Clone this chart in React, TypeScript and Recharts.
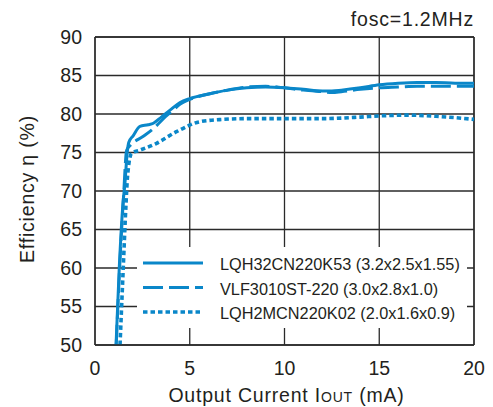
import React from "react";
import { LineChart, Line, XAxis, YAxis, CartesianGrid, Legend, ReferenceLine } from "recharts";

const FONT = '"Liberation Sans", Arial, Helvetica, sans-serif';
const BLUE = "#0a87c9";
const INK = "#231f20";

// Output current (mA) and efficiency (%)
const lqh32I = [1.11, 1.28, 1.48, 1.58, 1.7, 1.78, 2.02, 2.37, 2.81, 3.08, 3.5, 3.96, 4.49, 5.0, 6.0, 7.0, 8.0, 9.0, 10.0, 11.0, 12.0, 12.5, 13.0, 14.0, 15.0, 16.0, 17.0, 18.0, 19.0, 20.0];
const lqh32Eff = [50, 60, 68.5, 71, 75, 76.3, 77.2, 78.4, 78.6, 78.8, 79.6, 80.5, 81.5, 82.0, 82.6, 83.1, 83.4, 83.5, 83.4, 83.2, 83.0, 83.0, 83.1, 83.4, 83.8, 84.0, 84.1, 84.1, 84.0, 84.0];

const vlfI = [1.12, 1.3, 1.5, 1.67, 1.85, 2.55, 3.08, 3.78, 4.13, 4.5, 5.0, 6.0, 7.0, 8.0, 9.0, 10.0, 11.0, 12.0, 12.5, 13.0, 14.0, 15.0, 16.0, 17.0, 18.0, 19.0, 20.0];
const vlfEff = [50, 60, 69, 75.3, 75.9, 77.1, 78.1, 79.8, 80.5, 81.3, 81.9, 82.6, 83.1, 83.5, 83.6, 83.4, 83.1, 82.9, 82.8, 82.9, 83.2, 83.4, 83.5, 83.6, 83.6, 83.6, 83.6];

const lqh2mI = [1.32, 1.49, 1.63, 1.72, 1.93, 2.37, 3.25, 4.3, 5.54, 6.77, 8.0, 10.0, 12.0, 14.0, 15.0, 16.5, 18.0, 18.6, 20.0];
const lqh2mEff = [50, 60, 68, 72, 74.9, 75.3, 76.2, 77.7, 79.0, 79.3, 79.4, 79.4, 79.4, 79.6, 79.75, 79.85, 79.7, 79.6, 79.3];

const seriesNames = [
  "LQH32CN220K53 (3.2x2.5x1.55)",
  "VLF3010ST-220 (3.0x2.8x1.0)",
  "LQH2MCN220K02 (2.0x1.6x0.9)",
];
const seriesDash = ["", "20 6", "4.5 3"];
const seriesWidth = [3, 3, 3.6];

const xTicks = [0, 5, 10, 15, 20];
const yTicks = [50, 55, 60, 65, 70, 75, 80, 85, 90];
const noteText = "fosc=1.2MHz";

const toRows = (xs: number[], ys: number[]) => xs.map((x, k) => ({ i: x, eff: ys[k] }));
const seriesData = [toRows(lqh32I, lqh32Eff), toRows(vlfI, vlfEff), toRows(lqh2mI, lqh2mEff)];

const XLabel = (props: any) => {
  const vb = props.viewBox || {};
  return (
    <text
      x={vb.x + vb.width / 2 + 2}
      y={vb.y + 57}
      textAnchor="middle"
      fontFamily={FONT}
      fontSize={19.5}
      letterSpacing={0.8}
      fill={INK}
    >
      Output Current I<tspan fontSize={14}>OUT</tspan> (mA)
    </text>
  );
};

const YLabel = (props: any) => {
  const vb = props.viewBox || {};
  const cx = 27;
  const cy = vb.y + vb.height / 2 - 2;
  return (
    <text
      x={cx}
      y={cy}
      transform={`rotate(-90, ${cx}, ${cy})`}
      textAnchor="middle"
      dominantBaseline="central"
      fontFamily={FONT}
      fontSize={19.5}
      letterSpacing={0.8}
      fill={INK}
    >
      Efficiency η (%)
    </text>
  );
};

const LegendBox = () => (
  <div style={{ width: 330, height: 81, background: "#fff" }}>
    <svg width={330} height={81}>
      {seriesNames.map((name, k) => {
        const y = 16 + k * 24.5;
        return (
          <g key={name}>
            <line
              x1={6}
              x2={66}
              y1={y}
              y2={y}
              stroke={BLUE}
              strokeWidth={seriesWidth[k]}
              strokeDasharray={seriesDash[k] || undefined}
            />
            <text x={83} y={y + 1} dominantBaseline="central" fontFamily={FONT} fontSize={16.3} fill={INK}>
              {name}
            </text>
          </g>
        );
      })}
    </svg>
  </div>
);

export default function App() {
  return (
    <div style={{ position: "absolute", left: 0, top: 0, width: 493, height: 407, background: "#fff" }}>
      <LineChart width={493} height={407} margin={{ top: 37, right: 19, bottom: 22, left: 35 }}>
        <CartesianGrid stroke="#2a2a2a" strokeWidth={1.3} />
        <XAxis
          dataKey="i"
          type="number"
          domain={[0, 20]}
          ticks={xTicks}
          allowDataOverflow
          tickLine={false}
          axisLine={{ stroke: "#2a2a2a", strokeWidth: 1.3 }}
          tick={{ fontSize: 19.5, fill: INK, fontFamily: FONT }}
          tickMargin={10}
          height={40}
          label={<XLabel />}
        />
        <YAxis
          type="number"
          domain={[50, 90]}
          ticks={yTicks}
          allowDataOverflow
          tickLine={false}
          axisLine={{ stroke: "#2a2a2a", strokeWidth: 1.3 }}
          tick={{ fontSize: 19.5, fill: INK, fontFamily: FONT }}
          tickMargin={7}
          width={60}
          label={<YLabel />}
        />
        <ReferenceLine y={90} stroke="#2a2a2a" strokeWidth={1.3} />
        <ReferenceLine x={20} stroke="#2a2a2a" strokeWidth={1.3} />
        <Legend
          layout="horizontal"
          verticalAlign="middle"
          align="center"
          content={<LegendBox />}
          wrapperStyle={{ position: "absolute", left: 137, top: 247, width: 330, height: 81 }}
        />
        {seriesData.map((d, k) => (
          <Line
            key={seriesNames[k]}
            data={d}
            dataKey="eff"
            name={seriesNames[k]}
            type="monotone"
            stroke={BLUE}
            strokeWidth={seriesWidth[k]}
            strokeDasharray={seriesDash[k] || undefined}
            dot={false}
            activeDot={false}
            isAnimationActive={false}
          />
        ))}
      </LineChart>
      <svg
        width={493}
        height={407}
        style={{ position: "absolute", left: 0, top: 0, pointerEvents: "none" }}
      >
        <text x={474} y={26} textAnchor="end" fontFamily={FONT} fontSize={19.5} letterSpacing={0.8} fill={INK}>
          {noteText}
        </text>
      </svg>
    </div>
  );
}
